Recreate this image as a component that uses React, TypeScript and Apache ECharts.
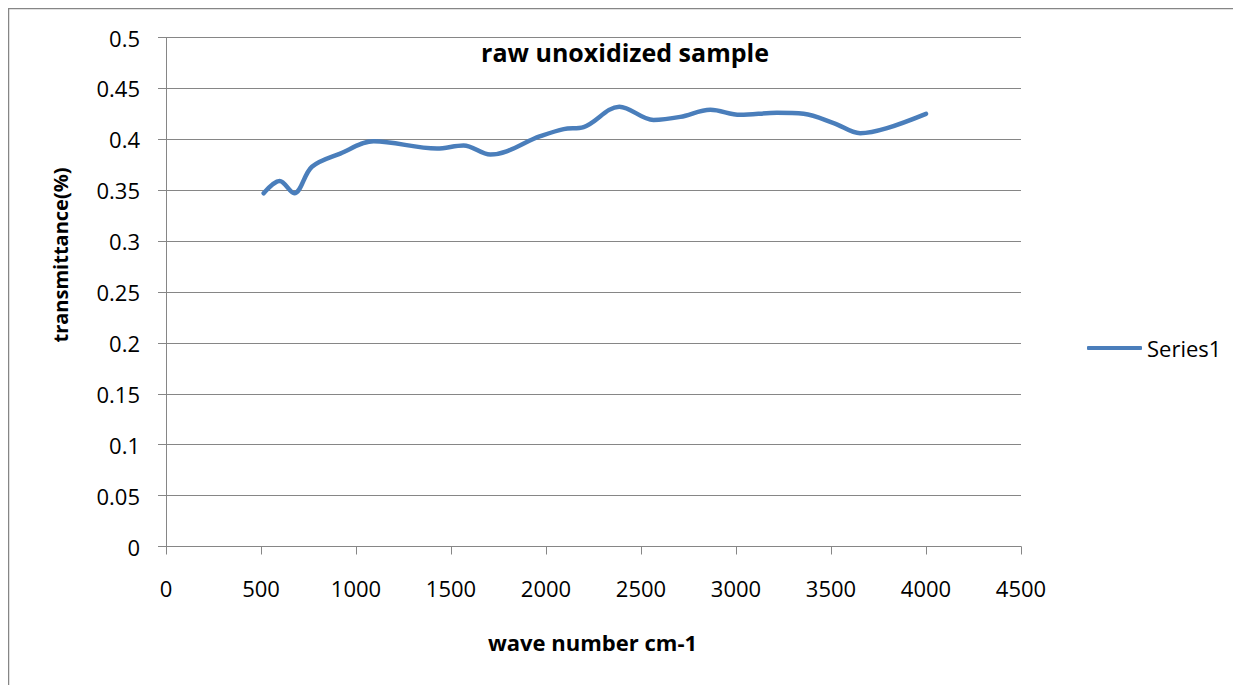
import React, { useEffect, useRef } from "react";
import * as echarts from "echarts";

const waveNumbers = [514, 598, 675, 768, 917, 1093, 1426, 1566, 1707, 1970, 2093, 2198, 2386, 2566, 2707, 2865, 3022, 3215, 3356, 3514, 3654, 3795, 4000];
const transmittance = [0.347, 0.359, 0.347, 0.373, 0.386, 0.398, 0.391, 0.394, 0.385, 0.403, 0.41, 0.412, 0.432, 0.419, 0.422, 0.429, 0.424, 0.426, 0.425, 0.416, 0.406, 0.411, 0.425];
const seriesName = "Series1";
const titleText = "raw unoxidized sample";
const xName = "wave number cm-1";
const yName = "transmittance(%)";

const FONT = "'Open Sans', 'Noto Sans', sans-serif";
const GRAY = "#868686";
const BLUE = "#4A7EBB";

export default function App() {
  const ref = useRef<HTMLDivElement>(null);
  useEffect(() => {
    if (!ref.current) return;
    const chart = echarts.init(ref.current, undefined, { renderer: "svg" });
    chart.setOption({
      animation: false,
      backgroundColor: "#fff",
      textStyle: { fontFamily: FONT },
      legend: {
        left: 1079,
        top: 329,
        padding: 0,
        itemWidth: 55,
        itemHeight: 4,
        itemGap: 5,
        textStyle: { fontFamily: FONT, fontSize: 22, color: "#000" },
        data: [{ name: seriesName, icon: "roundRect", itemStyle: { color: BLUE } }],
      },
      grid: { left: 158, top: 29.5, right: 220, bottom: 138.5, containLabel: false },
      xAxis: {
        type: "value",
        min: 0,
        max: 4500,
        interval: 500,
        axisLine: { show: true, lineStyle: { color: GRAY, width: 1 } },
        axisTick: { show: true, inside: false, length: 8, lineStyle: { color: GRAY } },
        splitLine: { show: false },
        axisLabel: { color: "#000", fontSize: 22, fontFamily: FONT, margin: 30, formatter: (v: number) => String(v) },
      },
      yAxis: {
        type: "value",
        min: 0,
        max: 0.5,
        interval: 0.05,
        axisLine: { show: true, lineStyle: { color: GRAY, width: 1 } },
        axisTick: { show: true, inside: false, length: 8, lineStyle: { color: GRAY } },
        splitLine: { show: true, lineStyle: { color: GRAY, width: 1 } },
        axisLabel: {
          color: "#000",
          fontSize: 22,
          fontFamily: FONT,
          margin: 26,
          formatter: (v: number) => String(parseFloat(v.toFixed(2))),
        },
      },
      graphic: [
        {
          type: "rect",
          shape: { x: 0.5, y: 0.5, width: 3000, height: 3000 },
          style: { fill: "none", stroke: GRAY, lineWidth: 1.5 },
          silent: true,
        },
        {
          type: "text",
          x: 617,
          y: 44,
          style: {
            text: titleText,
            fontFamily: FONT,
            fontWeight: "bold",
            fontSize: 25,
            fill: "#000",
            align: "center",
            verticalAlign: "middle",
          },
        },
        {
          type: "text",
          x: 52,
          y: 247,
          rotation: Math.PI / 2,
          style: {
            text: yName,
            fontFamily: FONT,
            fontWeight: "bold",
            fontSize: 20,
            fill: "#000",
            align: "center",
            verticalAlign: "middle",
          },
        },
        {
          type: "text",
          x: 584.5,
          y: 634,
          style: {
            text: xName,
            fontFamily: FONT,
            fontWeight: "bold",
            fontSize: 22,
            fill: "#000",
            align: "center",
            verticalAlign: "middle",
          },
        },
      ],
      series: [
        {
          name: seriesName,
          type: "line",
          smooth: 0.35,
          symbol: "none",
          data: waveNumbers.map((x, i) => [x, transmittance[i]]),
          lineStyle: { color: BLUE, width: 4.5, cap: "round", join: "round" },
          itemStyle: { color: BLUE },
        },
      ],
    });
    return () => chart.dispose();
  }, []);
  return <div ref={ref} style={{ width: 1233, height: 677 }} />;
}
